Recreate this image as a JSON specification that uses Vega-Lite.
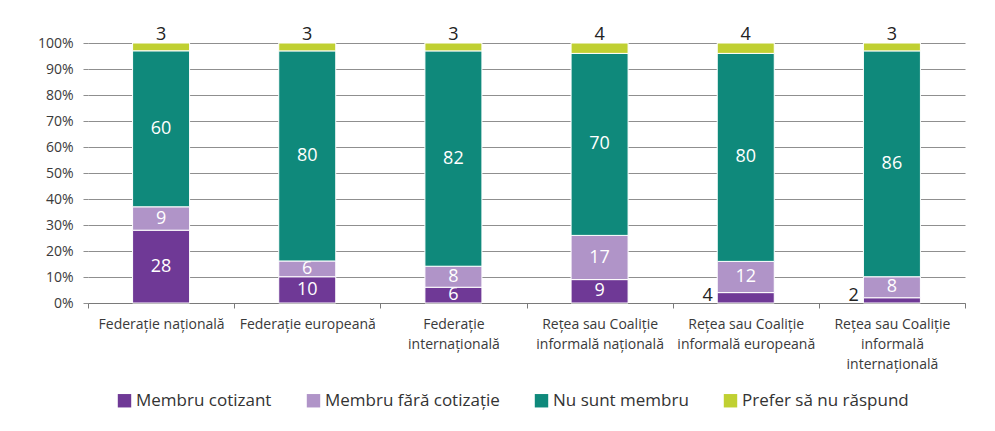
{
  "$schema": "https://vega.github.io/schema/vega-lite/v6.json",
  "autosize": {"type": "none"},
  "width": 877,
  "height": 260,
  "padding": {"left": 88, "top": 43, "right": 30, "bottom": 128},
  "background": "white",
  "config": {
    "view": {"stroke": null},
    "font": "Open Sans",
    "axis": {"labelFont": "Open Sans", "labelColor": "#3a3a3a"},
    "axisY": {
      "tickCount": 10,
      "format": ".0%",
      "labelOverlap": false,
      "domain": false,
      "grid": true,
      "gridColor": "#8f8f8f",
      "gridWidth": 1,
      "tickColor": "#8f8f8f",
      "tickSize": 5,
      "labelPadding": 10,
      "labelFontSize": 14,
      "title": null
    },
    "legend": {"labelFont": "Open Sans"}
  },
  "data": {
    "values": [
      {"cat": "Federație națională", "series": "Membru cotizant", "value": 28},
      {"cat": "Federație națională", "series": "Membru fără cotizație", "value": 9},
      {"cat": "Federație națională", "series": "Nu sunt membru", "value": 60},
      {"cat": "Federație națională", "series": "Prefer să nu răspund", "value": 3},
      {"cat": "Federație europeană", "series": "Membru cotizant", "value": 10},
      {"cat": "Federație europeană", "series": "Membru fără cotizație", "value": 6},
      {"cat": "Federație europeană", "series": "Nu sunt membru", "value": 80},
      {"cat": "Federație europeană", "series": "Prefer să nu răspund", "value": 3},
      {"cat": "Federație internațională", "series": "Membru cotizant", "value": 6},
      {"cat": "Federație internațională", "series": "Membru fără cotizație", "value": 8},
      {"cat": "Federație internațională", "series": "Nu sunt membru", "value": 82},
      {"cat": "Federație internațională", "series": "Prefer să nu răspund", "value": 3},
      {"cat": "Rețea sau Coaliție informală națională", "series": "Membru cotizant", "value": 9},
      {"cat": "Rețea sau Coaliție informală națională", "series": "Membru fără cotizație", "value": 17},
      {"cat": "Rețea sau Coaliție informală națională", "series": "Nu sunt membru", "value": 70},
      {"cat": "Rețea sau Coaliție informală națională", "series": "Prefer să nu răspund", "value": 4},
      {"cat": "Rețea sau Coaliție informală europeană", "series": "Membru cotizant", "value": 4},
      {"cat": "Rețea sau Coaliție informală europeană", "series": "Membru fără cotizație", "value": 12},
      {"cat": "Rețea sau Coaliție informală europeană", "series": "Nu sunt membru", "value": 80},
      {"cat": "Rețea sau Coaliție informală europeană", "series": "Prefer să nu răspund", "value": 4},
      {"cat": "Rețea sau Coaliție informală internațională", "series": "Membru cotizant", "value": 2},
      {"cat": "Rețea sau Coaliție informală internațională", "series": "Membru fără cotizație", "value": 8},
      {"cat": "Rețea sau Coaliție informală internațională", "series": "Nu sunt membru", "value": 86},
      {"cat": "Rețea sau Coaliție informală internațională", "series": "Prefer să nu răspund", "value": 3}
    ]
  },
  "transform": [
    {"stack": "value", "groupby": ["cat"], "sort": [{"field": "series", "order": "ascending"}], "offset": "normalize", "as": ["y0", "y1"]},
    {"calculate": "(datum.y0 + datum.y1) / 2", "as": "ymid"}
  ],
  "encoding": {
    "x": {
      "field": "cat",
      "type": "nominal",
      "sort": null,
      "title": null,
      "scale": {"paddingInner": 0, "paddingOuter": 0},
      "axis": {
        "tickBand": "extent",
        "labelAngle": 0,
        "labelFontSize": 14,
        "labelLineHeight": 20,
        "labelPadding": 9,
        "domainColor": "#7a7a7a",
        "tickColor": "#7a7a7a",
        "tickSize": 5,
        "labelLimit": 200,
        "labelExpr": "datum.label == 'Federație internațională' ? ['Federație', 'internațională'] : datum.label == 'Rețea sau Coaliție informală națională' ? ['Rețea sau Coaliție', 'informală națională'] : datum.label == 'Rețea sau Coaliție informală europeană' ? ['Rețea sau Coaliție', 'informală europeană'] : datum.label == 'Rețea sau Coaliție informală internațională' ? ['Rețea sau Coaliție', 'informală', 'internațională'] : datum.label"
      }
    }
  },
  "layer": [
    {
      "mark": {"type": "bar", "width": {"band": 0.39}, "stroke": "white", "strokeWidth": 1},
      "encoding": {
        "y": {
          "field": "y0",
          "type": "quantitative",
          "scale": {"domain": [0, 1], "nice": false}
        },
        "y2": {"field": "y1"},
        "color": {
          "field": "series",
          "type": "nominal",
          "scale": {
            "domain": ["Membru cotizant", "Membru fără cotizație", "Nu sunt membru", "Prefer să nu răspund"],
            "range": ["#6f3996", "#b094c8", "#0f897b", "#c0d032"]
          },
          "legend": {
            "title": null,
            "orient": "none",
            "direction": "horizontal",
            "legendX": 28,
            "legendY": 349,
            "symbolType": "square",
            "symbolSize": 180,
            "symbolStrokeWidth": 0,
            "symbolOpacity": 1,
            "labelFontSize": 17,
            "labelColor": "#333333",
            "labelOffset": 3,
            "columnPadding": 33,
            "labelLimit": 300
          }
        }
      }
    },
    {
      "transform": [{"filter": "datum.series != 'Prefer să nu răspund' && datum.value >= 5"}],
      "mark": {"type": "text", "fontSize": 18, "color": "white", "baseline": "middle", "align": "center"},
      "encoding": {
        "y": {"field": "ymid", "type": "quantitative"},
        "text": {"field": "value", "type": "quantitative"}
      }
    },
    {
      "transform": [{"filter": "datum.series == 'Membru cotizant' && datum.value < 5"}],
      "mark": {"type": "text", "fontSize": 18, "color": "#222222", "baseline": "bottom", "align": "right", "dx": -33, "dy": 2},
      "encoding": {
        "y": {"field": "y0", "type": "quantitative"},
        "text": {"field": "value", "type": "quantitative"}
      }
    },
    {
      "transform": [{"filter": "datum.series == 'Prefer să nu răspund'"}],
      "mark": {"type": "text", "fontSize": 18, "color": "#222222", "baseline": "bottom", "align": "center", "dy": 1},
      "encoding": {
        "y": {"field": "y1", "type": "quantitative"},
        "text": {"field": "value", "type": "quantitative"}
      }
    }
  ]
}
